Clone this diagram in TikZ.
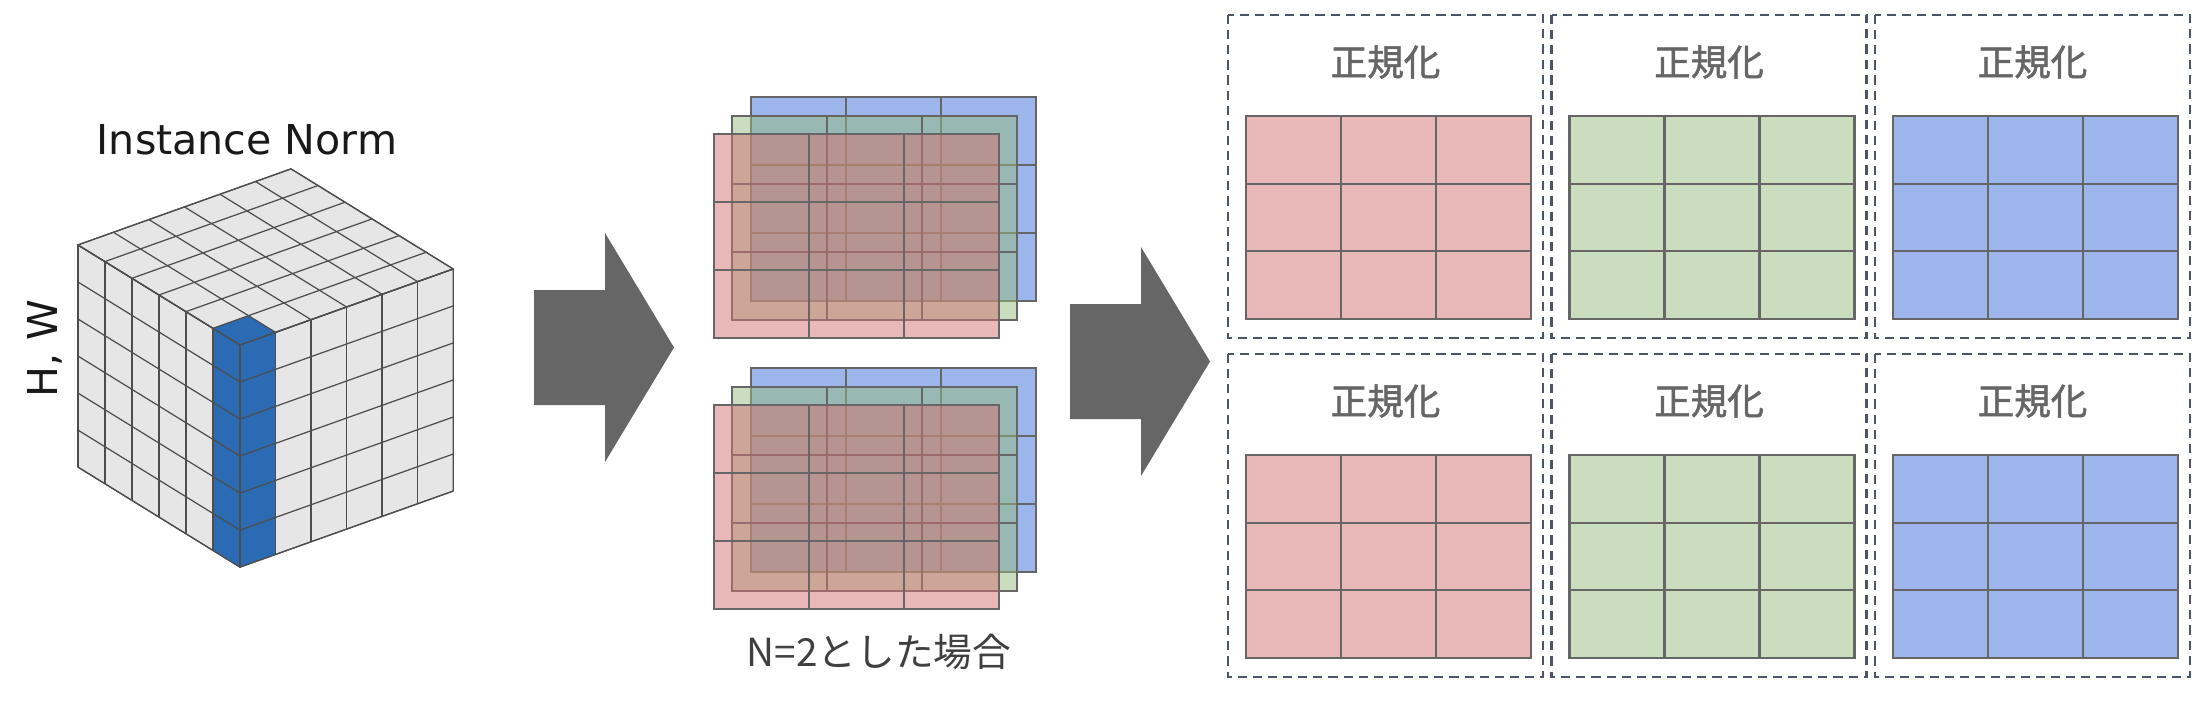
\documentclass[tikz,border=0pt]{standalone}
\usepackage{fontspec}
\newfontfamily\dejavu{DejaVu Sans}
\newfontfamily\cjk{Noto Sans CJK JP}
\newfontfamily\cjkheavy[FakeBold=1.5]{Noto Sans CJK JP}
\usetikzlibrary{calc}
\usetikzlibrary{positioning}

\definecolor{gridline}{HTML}{666666}
\definecolor{arrowgray}{HTML}{666666}
\definecolor{dashcol}{HTML}{4B5565}
\definecolor{cubeface}{HTML}{E6E6E6}
\definecolor{cubeline}{HTML}{4D4D4D}
\definecolor{cubeblue}{HTML}{2B6BB3}
\definecolor{softred}{HTML}{E9B8B8}
\definecolor{softgreen}{HTML}{CADDBE}
\definecolor{softblue}{HTML}{9CB5EA}
\definecolor{deepred}{HTML}{D37171}
\definecolor{deepgreen}{HTML}{95BB7D}

\tikzset{
  face/.style={fill=cubeface, draw=cubeline, line width=0.35pt},
  cubeedge/.style={cubeline, line width=0.35pt},
  layer/.style={draw=gridline, line width=0.6pt},
  normbox/.style={draw=dashcol, line width=0.6pt, dash pattern=on 2.6pt off 1.7pt},
  bigarrow/.style={fill=arrowgray},
  cubelabel/.style={inner sep=0, text=black!90, font=\dejavu\fontsize{11.7}{14}\selectfont},
  normlabel/.style={inner sep=0, text=gridline, font=\cjkheavy\fontsize{10.4}{12}\selectfont}
}

\begin{document}
\begin{tikzpicture}[x=0.01cm, y=-0.01cm]
\useasboundingbox (0,0) rectangle (2212,702);

\node[cubelabel] (title) at (247,140) {Instance Norm};
\node[cubelabel, rotate=90] (hw) at (45,349) {H, W};
\node[cubelabel] (cl) at (150,478) {C};
\node[cubelabel] (nl) at (367,484) {N};

\begin{scope}[shift={(240,345)}, x={(-0.27cm,0.1667cm)}, y={(0.355cm,0.1267cm)}, z={(0cm,-0.37cm)}]
\filldraw[face] (0,0,0) -- (6,0,0) -- (6,0,6) -- (0,0,6) -- cycle;
\filldraw[face] (0,0,0) -- (0,6,0) -- (0,6,6) -- (0,0,6) -- cycle;
\filldraw[face] (0,0,0) -- (6,0,0) -- (6,6,0) -- (0,6,0) -- cycle;
\fill[cubeblue] (1,0,0) -- (0,0,0) -- (0,1,0) -- (1,1,0) -- cycle;
\fill[cubeblue] (1,0,0) -- (0,0,0) -- (0,1,0) -- (0,1,6) -- (0,0,6) -- (1,0,6) -- cycle;
\foreach \k in {0,...,6} {
 \draw[cubeedge] (0,0,\k) --++(6,0,0);
 \draw[cubeedge] (0,0,\k) --++(0,6,0);
 \draw[cubeedge] (\k,0,0) --++(0,0,6);
 \draw[cubeedge] (0,\k,0) --++(0,0,6);
 \draw[cubeedge] (\k,0,0) --++(0,6,0);
 \draw[cubeedge] (0,\k,0) --++(6,0,0);
}
\end{scope}

\foreach \ax/\ay in {534/347.5, 1070/361.5} {
 \fill[bigarrow] (\ax,\ay) ++(0,-57.5) --++(71,0) --++(0,-57) --++(69,114.5) --++(-69,114.5) --++(0,-57) --++(-71,0) -- cycle;
}

\foreach \dy in {0,271} {
 \foreach \dx/\col/\op in {37/softblue/1, 18/deepgreen/0.5, 0/deepred/0.5} {
  \begin{scope}[shift={(714+\dx,134+\dy-\dx)}]
   \filldraw[layer, fill=\col, fill opacity=\op] (0,0) rectangle (285,204);
   \foreach \i in {95,190} \draw[layer] (\i,0) --++(0,204);
   \foreach \j in {68,136} \draw[layer] (0,\j) --++(285,0);
  \end{scope}
 }
}
\node[inner sep=0, text=black!75, font=\cjk\fontsize{11}{13}\selectfont] (caption) at (879,652) {N=2とした場合};

\foreach \r in {0,1} {
 \foreach \c/\col in {0/softred, 1/softgreen, 2/softblue} {
  \coordinate (B\r\c) at (1228+323.5*\c, 15+339*\r);
  \draw[normbox] (B\r\c) rectangle ++(315,323);
  \node[normlabel] (norm\r\c) at ($(B\r\c)+(157.5,47)$) {正規化};
  \begin{scope}[shift={($(B\r\c)+(18,101)$)}]
   \filldraw[layer, fill=\col] (0,0) rectangle (285,203);
   \foreach \i in {95,190} \draw[layer] (\i,0) --++(0,203);
   \foreach \j in {68,135} \draw[layer] (0,\j) --++(285,0);
  \end{scope}
 }
}
\end{tikzpicture}
\end{document}
